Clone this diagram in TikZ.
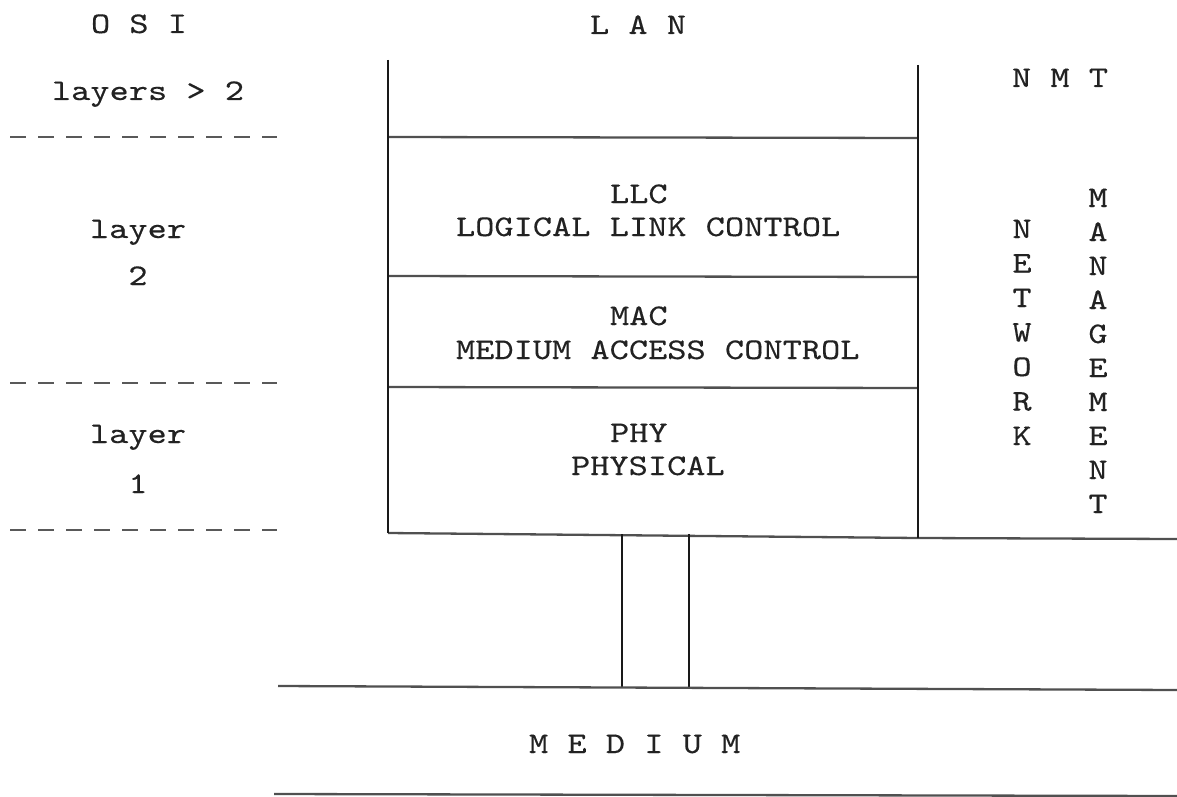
\documentclass[tikz,border=0pt]{standalone}
\usepackage{fontspec}
\newfontfamily\twf{lmmono10-regular.otf}[FakeStretch=1.22, FakeBold=0.3]
\newcommand\tws[1]{{\fontsize{30}{34}\selectfont\twf #1}}
\definecolor{ink}{HTML}{222222}
\definecolor{rule}{HTML}{505050}
\tikzset{
  txt/.style={inner sep=0pt, outer sep=0pt, text=ink},
  hline/.style={draw=rule, line width=2.3pt},
  vline/.style={draw=black!90, line width=1.9pt},
  osidash/.style={draw=black!65, line width=2pt, dash pattern=on 16pt off 12pt},
}
\begin{document}
\begin{tikzpicture}[x=1pt,y=-1pt]
\useasboundingbox (0,0) rectangle (1177,797);
% ---- OSI column ----
\node[txt,anchor=base] (osi) at (139,33) {\tws{O S I}};
\node[txt,anchor=base] (l3) at (148,100) {\tws{layers > 2}};
\node[txt,anchor=base] (l2a) at (138,238) {\tws{layer}};
\node[txt,anchor=base] (l2b) at (138,285) {\tws{2}};
\node[txt,anchor=base] (l1a) at (138,443) {\tws{layer}};
\node[txt,anchor=base] (l1b) at (138,493) {\tws{1}};
\coordinate (d1a) at (10,137); \coordinate (d1b) at (277,137);
\coordinate (d2a) at (10,383); \coordinate (d2b) at (277,383);
\coordinate (d3a) at (10,530); \coordinate (d3b) at (277,530);
\draw[osidash] (d1a) -- (d1b);
\draw[osidash] (d2a) -- (d2b);
\draw[osidash] (d3a) -- (d3b);
% ---- LAN stack ----
\node[txt,anchor=base west] (lan) at (590,34) {\tws{L A N}};
\coordinate (Lt) at (388,60);  \coordinate (Lb) at (388,533);
\coordinate (Rt) at (918,65);  \coordinate (Rb) at (918,538);
\coordinate (h1a) at (388,137); \coordinate (h1b) at (918,138);
\coordinate (h2a) at (388,276); \coordinate (h2b) at (918,277);
\coordinate (h3a) at (388,387); \coordinate (h3b) at (918,388);
\coordinate (bEnd) at (1177,539);
\draw[hline] (h1a) -- (h1b);
\draw[hline] (h2a) -- (h2b);
\draw[hline] (h3a) -- (h3b);
\draw[hline] (Lb) -- (Rb) -- (bEnd);
\draw[vline] (Lt) -- (Lb);
\draw[vline] (Rt) -- (Rb);
\node[txt,anchor=base west] (llc)  at (610,203) {\tws{LLC}};
\node[txt,anchor=base west] (llcl) at (456,236) {\tws{LOGICAL LINK CONTROL}};
\node[txt,anchor=base west] (mac)  at (610,325) {\tws{MAC}};
\node[txt,anchor=base west] (macl) at (456,359) {\tws{MEDIUM ACCESS CONTROL}};
\node[txt,anchor=base west] (phy)  at (610,442) {\tws{PHY}};
\node[txt,anchor=base west] (phyl) at (571,475) {\tws{PHYSICAL}};
% ---- NMT ----
\node[txt,anchor=base west] (nmt) at (1012,87) {\tws{N M T}};
\foreach \c [count=\i from 0] in {N,E,T,W,O,R,K}
  \node[txt,anchor=base] (nw\i) at (1022,238+34.5*\i) {\tws{\c}};
\foreach \c [count=\i from 0] in {M,A,N,A,G,E,M,E,N,T}
  \node[txt,anchor=base] (mg\i) at (1098,207+34*\i) {\tws{\c}};
% ---- connection to medium ----
\coordinate (c1t) at (622,534); \coordinate (c1b) at (622,687);
\coordinate (c2t) at (689,534); \coordinate (c2b) at (689,687);
\draw[vline] (c1t) -- (c1b);
\draw[vline] (c2t) -- (c2b);
% ---- medium ----
\coordinate (m1a) at (278,686); \coordinate (m1b) at (1177,690);
\coordinate (m2a) at (274,794); \coordinate (m2b) at (1177,796);
\draw[hline] (m1a) -- (m1b);
\draw[hline] (m2a) -- (m2b);
\node[txt,anchor=base west] (med) at (529,753) {\tws{M E D I U M}};
\end{tikzpicture}
\end{document}
